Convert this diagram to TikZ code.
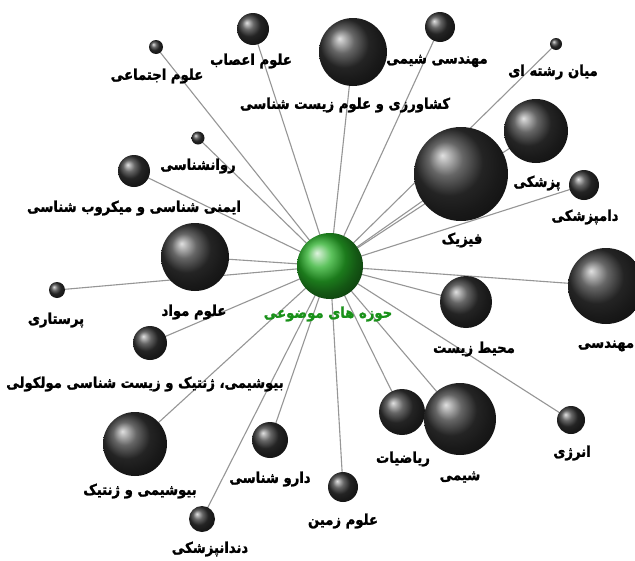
\documentclass[tikz,border=0pt]{standalone}
\usepackage{fontspec}
\newfontfamily\fa[Script=Arabic,FakeBold=1.6]{DejaVu Sans Bold}
\TeXXeTstate=1
\pgfdeclarelayer{bg}
\pgfsetlayers{bg,main}
\definecolor{hubgreen}{RGB}{40,175,40}
\definecolor{lblgreen}{RGB}{25,145,25}
\definecolor{edgegray}{RGB}{150,150,150}
\tikzset{
  sph/.style={circle, inner sep=0pt, shading=ball, ball color=black!80},
  hub/.style={circle, inner sep=0pt, shading=ball, ball color=hubgreen},
  lbl/.style={inner sep=0pt, font=\fa\fontsize{13.2}{15}\selectfont, text=black},
  hublbl/.style={lbl, text=lblgreen},
  edge/.style={draw=edgegray, line width=1.1pt}
}
\newcommand{\rtl}[1]{\scalebox{1}[1.12]{\beginR #1\endR}}
\begin{document}
\begin{tikzpicture}[x=1pt,y=-1pt]
\useasboundingbox (0,0) rectangle (635,560);
% hub
\node[hub, minimum size=66pt] (c) at (330,266) {};
\node[hublbl] (lc) at (328,314) {\rtl{حوزه های موضوعی}};
% spheres
\node[sph, minimum size=32pt] (n1) at (253,29) {};
\node[sph, minimum size=14pt] (n2) at (156,47) {};
\node[sph, minimum size=68pt] (n3) at (353,52) {};
\node[sph, minimum size=30pt] (n4) at (440,27) {};
\node[sph, minimum size=12pt] (n5) at (556,44) {};
\node[sph, minimum size=64pt] (n6) at (536,131) {};
\node[sph, minimum size=94pt] (n7) at (461,174) {};
\node[sph, minimum size=30pt] (n8) at (584,185) {};
\node[sph, minimum size=76pt] (n9) at (606,286) {};
\node[sph, minimum size=52pt] (n10) at (466,302) {};
\node[sph, minimum size=28pt] (n11) at (571,420) {};
\node[sph, minimum size=46pt] (n13) at (402,412) {};
\node[sph, minimum size=72pt] (n12) at (460,419) {};
\node[sph, minimum size=30pt] (n14) at (343,487) {};
\node[sph, minimum size=36pt] (n15) at (270,440) {};
\node[sph, minimum size=26pt] (n16) at (202,519) {};
\node[sph, minimum size=64pt] (n17) at (135,444) {};
\node[sph, minimum size=34pt] (n18) at (150,343) {};
\node[sph, minimum size=68pt] (n19) at (195,257) {};
\node[sph, minimum size=16pt] (n20) at (57,290) {};
\node[sph, minimum size=32pt] (n21) at (134,171) {};
\node[sph, minimum size=13pt] (n22) at (198,138) {};
% labels
\node[lbl] (l1) at (251,61) {\rtl{علوم اعصاب}};
\node[lbl] (l2) at (157,76) {\rtl{علوم اجتماعی}};
\node[lbl] (l3) at (345,105) {\rtl{کشاورزی و علوم زیست شناسی}};
\node[lbl] (l4) at (437,61) {\rtl{مهندسی شیمی}};
\node[lbl] (l5) at (553,72) {\rtl{میان رشته ای}};
\node[lbl] (l6) at (537,183) {\rtl{پزشکی}};
\node[lbl] (l7) at (462,240) {\rtl{فیزیک}};
\node[lbl] (l8) at (585,217) {\rtl{دامپزشکی}};
\node[lbl] (l9) at (606,346) {\rtl{مهندسی}};
\node[lbl] (l10) at (474,349) {\rtl{محیط زیست}};
\node[lbl] (l11) at (572,453) {\rtl{انرژی}};
\node[lbl] (l12) at (460,477) {\rtl{شیمی}};
\node[lbl] (l13) at (403,459) {\rtl{ریاضیات}};
\node[lbl] (l14) at (343,521) {\rtl{علوم زمین}};
\node[lbl] (l15) at (270,479) {\rtl{دارو شناسی}};
\node[lbl] (l16) at (210,549) {\rtl{دندانپزشکی}};
\node[lbl] (l17) at (140,491) {\rtl{بیوشیمی و ژنتیک}};
\node[lbl] (l18) at (145,384) {\rtl{بیوشیمی، ژنتیک و زیست شناسی مولکولی}};
\node[lbl] (l19) at (194,312) {\rtl{علوم مواد}};
\node[lbl] (l20) at (56,320) {\rtl{پرستاری}};
\node[lbl] (l21) at (134,208) {\rtl{ایمنی شناسی و میکروب شناسی}};
\node[lbl] (l22) at (198,166) {\rtl{روانشناسی}};
% background and edges
\begin{pgfonlayer}{bg}
\fill[white] (0,0) rectangle (635,560);
\foreach \i in {1,...,22} {\draw[edge] (c.center) -- (n\i.center);}
\end{pgfonlayer}
\end{tikzpicture}
\end{document}
